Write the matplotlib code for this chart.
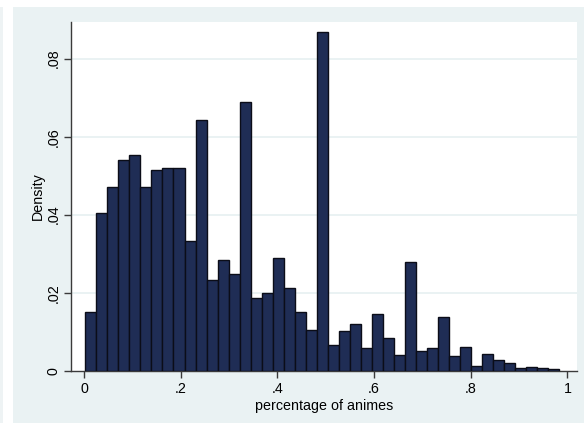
import matplotlib.pyplot as plt
from matplotlib.patches import Rectangle

# histogram: 43 bins from ~0.003 to ~0.983
bin_start = 0.0027
bin_width = 0.0228
heights = [0.0151, 0.0405, 0.0470, 0.0541, 0.0552, 0.0470, 0.0514, 0.0520, 0.0519, 0.0332,
           0.0644, 0.0232, 0.0285, 0.0249, 0.0688, 0.0186, 0.0198, 0.0288, 0.0211, 0.0151,
           0.0104, 0.0869, 0.0065, 0.0101, 0.0121, 0.0059, 0.0146, 0.0085, 0.0039, 0.0278,
           0.0051, 0.0057, 0.0138, 0.0037, 0.0060, 0.0013, 0.0043, 0.0027, 0.0020, 0.0007,
           0.0009, 0.0007, 0.0004]
lefts = [bin_start + i * bin_width for i in range(len(heights))]

xticks = [0, 0.2, 0.4, 0.6, 0.8, 1.0]
xticklabels = ["0", ".2", ".4", ".6", ".8", "1"]
yticks = [0, 0.02, 0.04, 0.06, 0.08]
yticklabels = ["0", ".02", ".04", ".06", ".08"]

plt.rcParams['font.family'] = ['Liberation Sans', 'DejaVu Sans']

W, H = 584, 423
fig = plt.figure(figsize=(W / 100, H / 100), dpi=100, facecolor='white')

# graph region (light bluish gray)
fig.add_artist(Rectangle((13 / W, 0), 1 - 13 / W, 1 - 7 / H, transform=fig.transFigure,
                         facecolor='#eaf2f3', edgecolor='none', zorder=-5))
fig.add_artist(Rectangle((0, 0), 3 / W, 1 - 7 / H, transform=fig.transFigure,
                         facecolor='#eef3f4', edgecolor='none', zorder=-5))

ax = fig.add_axes([70.7 / W, (H - 370.7) / H, (577 - 70.7) / W, (370.7 - 22) / H])
ax.set_zorder(2)
ax.set_facecolor('white')

ax.bar(lefts, heights, width=bin_width, align='edge', color='#1f2d55',
       edgecolor='#0b0d18', linewidth=1.0, zorder=3)

ax.set_xlim(-0.0275, 1.0197)
ax.set_ylim(0, 0.0894)

ax.set_xticks(xticks)
ax.set_xticklabels(xticklabels)
ax.set_yticks(yticks)
ax.set_yticklabels(yticklabels, rotation=90, va='center')

for y in yticks[1:]:
    ax.axhline(y, color='#eaf2f3', linewidth=1.4, zorder=1)

for side in ['top', 'right']:
    ax.spines[side].set_visible(False)
for side in ['left', 'bottom']:
    ax.spines[side].set_color('#3a3a3a')
    ax.spines[side].set_linewidth(1.0)

ax.tick_params(axis='both', length=5, width=1.0, color='#3a3a3a', labelsize=10.3,
               labelcolor='black')
ax.tick_params(axis='x', pad=3)
ax.tick_params(axis='y', pad=2)

ax.set_xlabel("percentage of animes", fontsize=10.3, labelpad=2)
ax.set_ylabel("Density", fontsize=10.3, labelpad=1.5)

fig.savefig("out.png", dpi=100, facecolor=fig.get_facecolor())
